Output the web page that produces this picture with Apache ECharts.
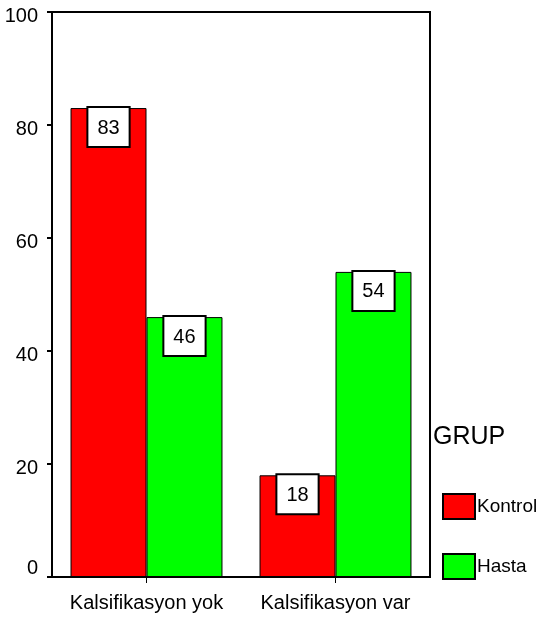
<!DOCTYPE html>
<html>
<head>
<meta charset="utf-8">
<script src="https://cdn.jsdelivr.net/npm/echarts@6/dist/echarts.min.js"></script>
<style>
  html, body { margin: 0; padding: 0; background: #fff; }
  #chart { width: 544px; height: 620px; }
</style>
</head>
<body>
<div id="chart"></div>
<script>
// Categories and percentages per group
const categories = ['Kalsifikasyon yok', 'Kalsifikasyon var'];
const kontrolValues = [83, 18];
const hastaValues = [46, 54];
const yTicks = { min: 0, max: 100, interval: 20 };
const legendTitle = 'GRUP';

const FONT = '"Liberation Sans", Arial, sans-serif';

const valueLabel = {
  show: true,
  position: 'insideTop',
  distance: 0,
  color: '#000',
  fontFamily: FONT,
  fontSize: 20,
  lineHeight: 20,
  backgroundColor: '#fff',
  borderColor: '#000',
  borderWidth: 2,
  padding: [10, 9, 8, 9]
};

const chart = echarts.init(document.getElementById('chart'), null, { renderer: 'canvas' });

chart.setOption({
  animation: false,
  backgroundColor: '#fff',
  textStyle: { fontFamily: FONT },
  title: {
    text: legendTitle,
    left: 428,
    top: 420,
    textStyle: { fontFamily: FONT, fontSize: 25, fontWeight: 'normal', color: '#000' }
  },
  legend: {
    orient: 'vertical',
    left: 437,
    top: 488,
    itemWidth: 32,
    itemHeight: 25,
    itemGap: 33,
    icon: 'rect',
    textStyle: { fontFamily: FONT, fontSize: 19, color: '#000', padding: [2, 0, 0, -3] },
    data: ['Kontrol', 'Hasta']
  },
  grid: {
    left: 52,
    right: 114,
    top: 12,
    bottom: 43,
    show: true,
    borderColor: '#000',
    borderWidth: 2
  },
  xAxis: {
    type: 'category',
    data: categories,
    axisLine: { lineStyle: { color: '#000', width: 2 } },
    axisTick: { show: true, alignWithLabel: true, length: 6, lineStyle: { color: '#000', width: 1 } },
    axisLabel: {
      color: '#000',
      fontSize: 20,
      fontFamily: FONT,
      margin: 16,
      interval: 0,
      hideOverlap: false
    }
  },
  yAxis: {
    type: 'value',
    min: yTicks.min,
    max: yTicks.max,
    interval: yTicks.interval,
    splitLine: { show: false },
    axisLine: { show: true, lineStyle: { color: '#000', width: 2 } },
    axisTick: { show: true, length: 5, lineStyle: { color: '#000', width: 2 } },
    axisLabel: {
      color: '#000',
      fontSize: 20,
      fontFamily: FONT,
      margin: 14,
      formatter: function (v) { return v === 0 ? '{zero|0}' : '{n|' + v + '}'; },
      rich: {
        n: { fontSize: 20, fontFamily: FONT, color: '#000', padding: [8, 0, 0, 0] },
        zero: { fontSize: 20, fontFamily: FONT, color: '#000', padding: [0, 0, 18, 0] }
      }
    }
  },
  series: [
    {
      name: 'Kontrol',
      type: 'bar',
      data: kontrolValues,
      barCategoryGap: '19.6%',
      barGap: '0%',
      itemStyle: { color: '#ff0000', borderColor: '#000', borderWidth: 1 },
      label: valueLabel
    },
    {
      name: 'Hasta',
      type: 'bar',
      data: hastaValues,
      barGap: '0%',
      itemStyle: { color: '#00ff00', borderColor: '#000', borderWidth: 1 },
      label: valueLabel
    }
  ]
});
</script>
</body>
</html>
